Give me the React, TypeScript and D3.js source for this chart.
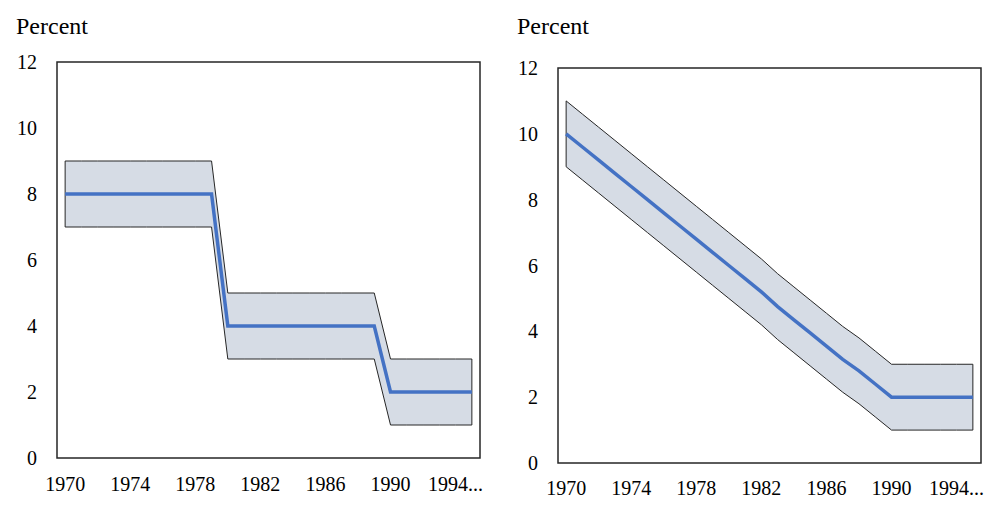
import * as d3 from 'd3'

// categories (one per year)
const years = [
  '1970', '1971', '1972', '1973', '1974', '1975', '1976', '1977', '1978', '1979',
  '1980', '1981', '1982', '1983', '1984', '1985', '1986', '1987', '1988', '1989',
  '1990', '1991', '1992', '1993', '1994', '1995',
]
const xTickYears = ['1970', '1974', '1978', '1982', '1986', '1990', '1994']
const xTickLabels = ['1970', '1974', '1978', '1982', '1986', '1990', '1994...']
const yTicks = [0, 2, 4, 6, 8, 10, 12]

// left panel: step path
const leftCentral = [8, 8, 8, 8, 8, 8, 8, 8, 8, 8, 4, 4, 4, 4, 4, 4, 4, 4, 4, 4, 2, 2, 2, 2, 2, 2]
const leftUpper = [9, 9, 9, 9, 9, 9, 9, 9, 9, 9, 5, 5, 5, 5, 5, 5, 5, 5, 5, 5, 3, 3, 3, 3, 3, 3]
const leftLower = [7, 7, 7, 7, 7, 7, 7, 7, 7, 7, 3, 3, 3, 3, 3, 3, 3, 3, 3, 3, 1, 1, 1, 1, 1, 1]

// right panel: gradual decline
const rightCentral = [
  10, 9.6, 9.2, 8.8, 8.4, 8.0, 7.6, 7.2, 6.8, 6.4, 6.0, 5.6, 5.2, 4.75, 4.35, 3.95, 3.55, 3.15, 2.8, 2.4,
  2.0, 2, 2, 2, 2, 2,
]
const rightUpper = [
  11, 10.6, 10.2, 9.8, 9.4, 9.0, 8.6, 8.2, 7.8, 7.4, 7.0, 6.6, 6.2, 5.75, 5.35, 4.95, 4.55, 4.15, 3.8, 3.4,
  3.0, 3, 3, 3, 3, 3,
]
const rightLower = [
  9, 8.6, 8.2, 7.8, 7.4, 7.0, 6.6, 6.2, 5.8, 5.4, 5.0, 4.6, 4.2, 3.75, 3.35, 2.95, 2.55, 2.15, 1.8, 1.4,
  1.0, 1, 1, 1, 1, 1,
]

const FONT = 'Liberation Serif'

interface PanelProps {
  left: number
  top: number
  right: number
  bottom: number
  titleX: number
  labelBaseline: number
  central: number[]
  upper: number[]
  lower: number[]
}

function Panel({ left, top, right, bottom, titleX, labelBaseline, central, upper, lower }: PanelProps) {
  const x = d3.scaleBand<string>().domain(years).range([left, right])
  const y = d3.scaleLinear().domain([0, 12]).range([bottom, top])
  const cx = (i: number) => (x(years[i]) as number) + x.bandwidth() / 2

  const idx = years.map((_, i) => i)
  const band = d3
    .area<number>()
    .x((i) => cx(i))
    .y0((i) => y(lower[i]))
    .y1((i) => y(upper[i]))
  const line = d3
    .line<number>()
    .x((i) => cx(i))
    .y((i) => y(central[i]))

  return (
    <g>
      <text x={titleX} y={34} fontSize={24} fontFamily={FONT} fill="#000">
        Percent
      </text>
      <rect x={left} y={top} width={right - left} height={bottom - top} fill="#fff" stroke="#262626" strokeWidth={1.5} />
      <path d={(band(idx) as string) + 'Z'} fill="#d6dce5" stroke="#262626" strokeWidth={1} />
      <path d={line(idx) as string} fill="none" stroke="#4472c4" strokeWidth={3.5} />
      {yTicks.map((t) => (
        <text
          key={t}
          x={left - 20}
          y={y(t)}
          dy="0.35em"
          textAnchor="end"
          fontSize={20}
          fontFamily={FONT}
          fill="#000"
        >
          {t}
        </text>
      ))}
      {xTickYears.map((yr, i) => (
        <text
          key={yr}
          x={(x(yr) as number) + x.bandwidth() / 2}
          y={labelBaseline}
          textAnchor="middle"
          fontSize={20}
          fontFamily={FONT}
          fill="#000"
        >
          {xTickLabels[i]}
        </text>
      ))}
    </g>
  )
}

export default function App() {
  return (
    <svg
      width={1008}
      height={515}
      style={{ position: 'absolute', left: 0, top: 0, background: '#fff' }}
    >
      <rect width={1008} height={515} fill="#fff" />
      <Panel
        left={57}
        top={62}
        right={480}
        bottom={458}
        titleX={16}
        labelBaseline={491}
        central={leftCentral}
        upper={leftUpper}
        lower={leftLower}
      />
      <Panel
        left={558}
        top={68}
        right={981}
        bottom={463}
        titleX={517}
        labelBaseline={495}
        central={rightCentral}
        upper={rightUpper}
        lower={rightLower}
      />
    </svg>
  )
}
